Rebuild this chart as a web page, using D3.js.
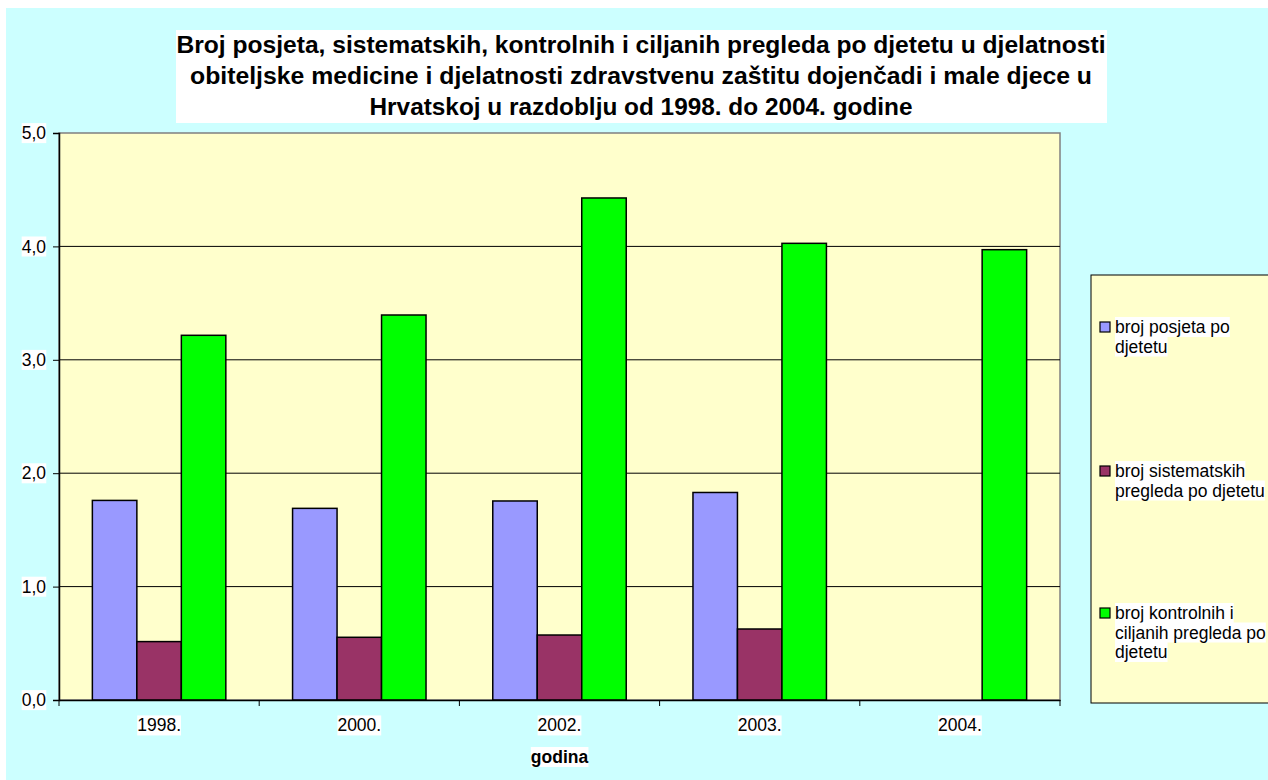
<!DOCTYPE html>
<html><head><meta charset="utf-8">
<script src="https://cdn.jsdelivr.net/npm/d3@7"></script>
<style>body{margin:0;background:#fff}svg{display:block}text{font-family:"Liberation Sans",Arial,sans-serif}</style>
</head><body>
<svg id="c" width="1268" height="780"></svg>
<script>
const categories = ["1998.", "2000.", "2002.", "2003.", "2004."];
const posjeta = [1.76, 1.69, 1.755, 1.83, null];
const sistematski = [0.515, 0.553, 0.573, 0.626, null];
const kontrolni = [3.216, 3.395, 4.427, 4.027, 3.971];
const seriesNames = [["broj posjeta po", "djetetu"], ["broj sistematskih", "pregleda po djetetu"], ["broj kontrolnih i", "ciljanih pregleda po", "djetetu"]];
const seriesColors = ["#9999FF", "#993366", "#00FF00"];
const yTicks = [0, 1, 2, 3, 4, 5];
const yTickLabels = ["0,0", "1,0", "2,0", "3,0", "4,0", "5,0"];
const titleLines = ["Broj posjeta, sistematskih, kontrolnih i ciljanih pregleda po djetetu u djelatnosti", "obiteljske medicine i djelatnosti zdravstvenu zaštitu dojenčadi i male djece u", "Hrvatskoj u razdoblju od 1998. do 2004. godine"];
const xTitle = "godina";

const allSeries = [posjeta, sistematski, kontrolni];
const svg = d3.select("#c");
const L = 59, R = 1060, T = 133, B = 700;
const FS = 17.5;

function whiteBg(sel, padX = 0, padY = 0) {
  sel.each(function () {
    const b = this.getBBox();
    d3.select(this.parentNode).insert("rect", () => this)
      .attr("x", b.x - padX).attr("y", b.y - padY)
      .attr("width", b.width + 2 * padX).attr("height", b.height + 2 * padY)
      .attr("fill", "#fff");
  });
}

// outer background
svg.append("rect").attr("x", 6).attr("y", 8).attr("width", 1262).attr("height", 772).attr("fill", "#CCFFFF");

// title
svg.append("rect").attr("x", 176).attr("y", 30).attr("width", 931).attr("height", 93).attr("fill", "#fff");
const titleWidths = [929, 902, 543];
svg.append("g").selectAll("text").data(titleLines).join("text")
  .attr("x", 641).attr("y", (d, i) => 53 + i * 31)
  .attr("text-anchor", "middle").attr("font-size", 23).attr("font-weight", "bold").attr("fill", "#000")
  .attr("textLength", (d, i) => titleWidths[i]).attr("lengthAdjust", "spacingAndGlyphs")
  .text(d => d);

// plot area
svg.append("rect").attr("x", L).attr("y", T).attr("width", R - L).attr("height", B - T)
  .attr("fill", "#FFFFCC").attr("stroke", "#808080").attr("stroke-width", 1.5);

const x0 = d3.scaleBand().domain(categories).range([L, R]).padding(0);
const bw = x0.bandwidth() / 4.5;
const x1 = d3.scaleBand().domain([0, 1, 2]).range([bw * 0.75, bw * 3.75]).padding(0);
const y = d3.scaleLinear().domain([0, 5]).range([B, T]);

// gridlines
svg.append("g").selectAll("line").data(yTicks.filter(t => t > 0 && t < 5)).join("line")
  .attr("x1", L).attr("x2", R).attr("y1", d => y(d)).attr("y2", d => y(d))
  .attr("stroke", "#000").attr("stroke-width", 1);

// bars
const flat = [];
allSeries.forEach((s, si) => s.forEach((v, ci) => { if (v != null) flat.push({ si, ci, v }); }));
svg.append("g").selectAll("rect").data(flat).join("rect")
  .attr("x", d => x0(categories[d.ci]) + x1(d.si))
  .attr("width", x1.bandwidth())
  .attr("y", d => y(d.v)).attr("height", d => B - y(d.v))
  .attr("fill", d => seriesColors[d.si]).attr("stroke", "#000").attr("stroke-width", 1.5);

// y axis
const yAxis = svg.append("g").attr("transform", `translate(${L},0)`)
  .call(d3.axisLeft(y).tickValues(yTicks).tickFormat((d, i) => yTickLabels[i]).tickSize(6).tickPadding(7));
yAxis.select(".domain").attr("stroke", "#000").attr("stroke-width", 1.5);
yAxis.selectAll(".tick line").attr("stroke", "#000");
yAxis.selectAll(".tick text").attr("font-size", FS).attr("fill", "#000").attr("font-family", "Liberation Sans, Arial, sans-serif");
whiteBg(yAxis.selectAll(".tick text"));

// x axis
const xAxis = svg.append("g").attr("transform", `translate(0,${B})`)
  .call(d3.axisBottom(x0).tickSize(0).tickPadding(19));
xAxis.select(".domain").attr("stroke", "#000").attr("stroke-width", 1.5);
xAxis.selectAll(".tick text").attr("font-size", FS).attr("fill", "#000").attr("font-family", "Liberation Sans, Arial, sans-serif");
whiteBg(xAxis.selectAll(".tick text"));
// category boundary ticks
svg.append("g").selectAll("line").data(categories.concat(["end"])).join("line")
  .attr("x1", (d, i) => L + i * x0.bandwidth()).attr("x2", (d, i) => L + i * x0.bandwidth())
  .attr("y1", B).attr("y2", B + 6).attr("stroke", "#000");

// x title
const xt = svg.append("text").attr("x", (L + R) / 2).attr("y", 763).attr("text-anchor", "middle")
  .attr("font-size", FS).attr("font-weight", "bold").attr("fill", "#000").text(xTitle);
whiteBg(xt);

// legend
svg.append("rect").attr("x", 1091).attr("y", 275).attr("width", 200).attr("height", 428)
  .attr("fill", "#FFFFCC").attr("stroke", "#000").attr("stroke-width", 1);
const lg = svg.append("g");
const itemY = [327, 471, 613];
seriesNames.forEach((lines, i) => {
  const g = lg.append("g");
  g.append("rect").attr("x", 1100).attr("y", itemY[i] - 5).attr("width", 10).attr("height", 10)
    .attr("fill", seriesColors[i]).attr("stroke", "#000").attr("stroke-width", 1.2);
  const t = g.selectAll("text").data(lines).join("text")
    .attr("x", 1115).attr("y", (d, j) => itemY[i] + 6 + j * 19.5)
    .attr("font-size", FS).attr("fill", "#000").text(d => d);
  whiteBg(t);
});
</script>
</body></html>
